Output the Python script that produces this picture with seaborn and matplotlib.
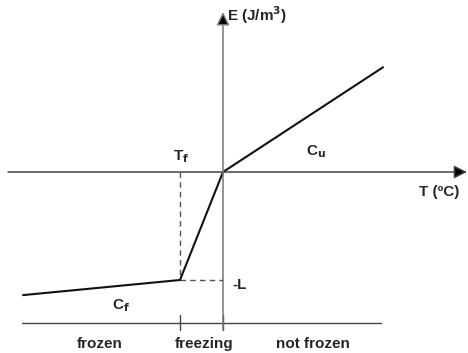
import matplotlib
matplotlib.use("Agg")
import numpy as np
import pandas as pd
import matplotlib.pyplot as plt
import seaborn as sns

# enthalpy curve (T in arbitrary units, E in units of L)
temp = [-10.0, -2.15, 0.0, 8.0]
energy = [-1.14, -1.0, 0.0, 0.97]
t_f = -2.15
latent = -1.0

zones = ["frozen", "freezing", "not frozen"]
zone_x = [-6.15, -0.95, 4.5]
zone_ticks = [t_f, 0.0]

sns.set_theme(style="white")
plt.rcParams['font.family'] = ['Liberation Sans', 'DejaVu Sans']

fig = plt.figure(figsize=(4.68, 3.53), dpi=100)
ax = fig.add_axes([0, 0, 1, 1])

# axes with arrows
ax.annotate("", xy=(12.2, 0), xytext=(-10.75, 0),
            arrowprops=dict(arrowstyle="-|>,head_length=0.6,head_width=0.3", fc="black", ec="#444444",
                            lw=1.1, mutation_scale=13, shrinkA=0, shrinkB=0))
ax.annotate("", xy=(0, 1.48), xytext=(0, -1.463),
            arrowprops=dict(arrowstyle="-|>,head_length=0.6,head_width=0.3", fc="black", ec="#777777",
                            lw=1.1, mutation_scale=13, shrinkA=0, shrinkB=0))

# dashed guide lines
ax.plot([t_f, t_f], [0, latent], ls=(0, (4, 3)), color="#555555", lw=1)
ax.plot([t_f, 0], [latent, latent], ls=(0, (4, 3)), color="#555555", lw=1)

# curve
df = pd.DataFrame({"T": temp, "E": energy})
sns.lineplot(data=df, x="T", y="E", sort=False, color="#111111", lw=1.5, ax=ax)
ax.set_xlim(-11.15, 12.25)
ax.set_ylim(-1.676, 1.593)
ax.axis("off")

# bottom zone line
ax.plot([-10.05, 7.9], [-1.398, -1.398], color="#444444", lw=1)
for t in zone_ticks:
    ax.plot([t, t], [-1.324, -1.463], color="#444444", lw=1)
for name, x in zip(zones, zone_x):
    ax.text(x, -1.593, name, ha="center", va="center", fontsize=11, fontweight="bold")

fs = 11
ax.text(0.2, 1.454, "E (J/m$^\\mathbf{3}$)", ha="left", va="center", fontsize=fs, fontweight="bold")
ax.text(-2.1, 0.139, "T$_\\mathbf{f}$", ha="center", va="center", fontsize=fs, fontweight="bold")
ax.text(4.65, 0.185, "C$_\\mathbf{u}$", ha="center", va="center", fontsize=fs, fontweight="bold")
ax.text(10.8, -0.185, "T (ºC)", ha="center", va="center", fontsize=fs, fontweight="bold")
ax.text(0.85, -1.046, "-L", ha="center", va="center", fontsize=fs, fontweight="bold")
ax.text(-5.1, -1.24, "C$_\\mathbf{f}$", ha="center", va="center", fontsize=fs, fontweight="bold")

fig.savefig("out.png", dpi=100)
